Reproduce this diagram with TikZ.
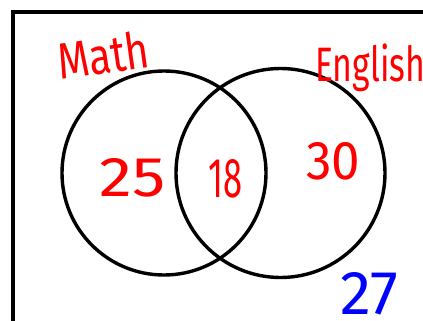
\documentclass[tikz,border=0pt]{standalone}
\usepackage{fontspec}
\setmainfont{Fira Sans}
\usepackage{graphicx}
\tikzset{
  frame/.style={line width=4pt, line cap=rect},
  setcircle/.style={draw, line width=3.4pt},
  lbl/.style={red, inner sep=0pt},
  outside/.style={blue, inner sep=0pt}
}
\begin{document}
\begin{tikzpicture}[x=1pt, y=-1pt]
\useasboundingbox (0,0) rectangle (423,321);
\coordinate (bl) at (12.5,330);
\coordinate (tl) at (12.5,12.5);
\coordinate (tr) at (430,12.5);
\draw[frame] (bl) -- (tl) -- (tr);
\node[setcircle, circle, minimum size=204pt, inner sep=0pt] (math) at (164,173) {};
\node[setcircle, circle, minimum size=209pt, inner sep=0pt] (eng) at (280.5,173) {};
\node[lbl, rotate=8] (mlabel) at (103,55) {\resizebox{92pt}{38pt}{Math}};
\node[lbl, anchor=west] (elabel) at (315,68) {\resizebox*{110pt}{48pt}{English}};
\node[lbl] (n25) at (133,178) {\resizebox{66pt}{38pt}{25}};
\node[lbl] (n18) at (225.5,179) {\resizebox{34pt}{38pt}{18}};
\node[lbl] (n30) at (333.5,161.5) {\resizebox{54pt}{37pt}{30}};
\node[outside] (n27) at (369,294) {\resizebox{58pt}{42pt}{27}};
\end{tikzpicture}
\end{document}
